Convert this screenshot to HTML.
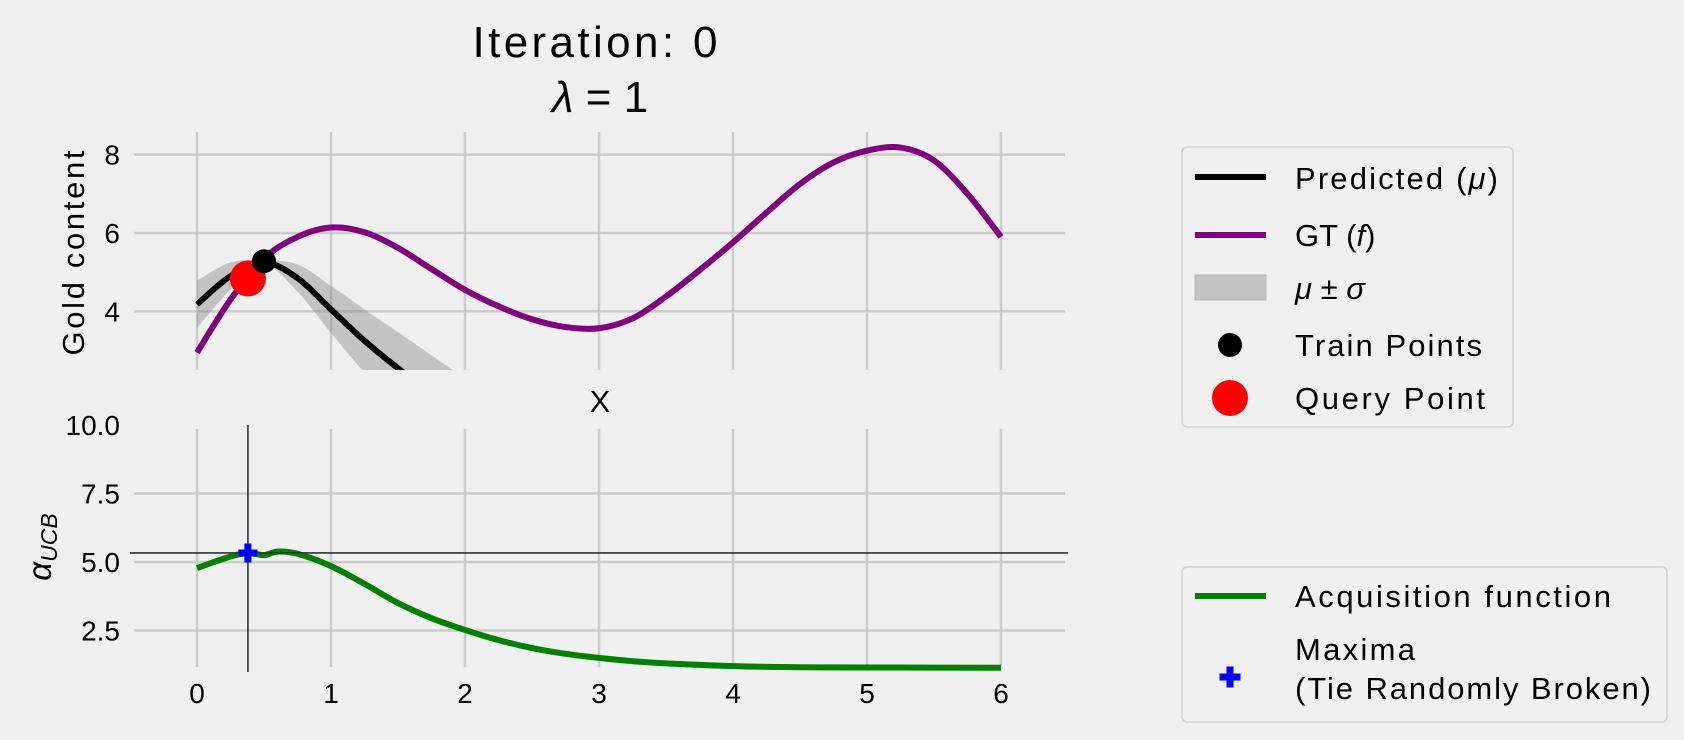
<!DOCTYPE html>
<html><head><meta charset="utf-8"><style>
html,body{margin:0;padding:0;background:#f0f0f0}
svg{display:block;font-family:"Liberation Sans","DejaVu Sans",sans-serif}
</style></head><body>
<svg id="chart" width="1684" height="740" viewBox="0 0 1684 740" xmlns="http://www.w3.org/2000/svg">
<rect width="1684" height="740" fill="#f0f0f0"/>
<defs>
<clipPath id="clipTop"><rect x="130" y="132" width="940" height="238"/></clipPath>
<clipPath id="clipBot"><rect x="130" y="425" width="940" height="247"/></clipPath>
</defs>
<g id="topGrid"></g>
<g id="botGrid"></g>
<g id="topPlot" clip-path="url(#clipTop)"></g>
<g id="botPlot" clip-path="url(#clipBot)"></g>
<g id="ticks" font-size="28" fill="#000"></g>

<text x="595" y="57" font-size="44" text-anchor="middle" textLength="245">Iteration: 0</text>
<text x="600" y="112" font-size="44" text-anchor="middle"><tspan font-style="italic">λ</tspan> = 1</text>
<text x="600" y="412" font-size="31" text-anchor="middle">X</text>
<text transform="translate(84,253) rotate(-90)" font-size="31" text-anchor="middle" textLength="205">Gold content</text>
<text transform="translate(51,547) rotate(-90)" font-size="33" text-anchor="middle"><tspan font-style="italic">α</tspan><tspan font-size="23" font-style="italic" dy="6">UCB</tspan></text>

<g>
<rect x="1182" y="147" width="331" height="280" rx="5" fill="#f0f0f0" stroke="#d0d0d0" stroke-width="1.5"/>
<g><line x1="1195" y1="177" x2="1266" y2="177" stroke="#000" stroke-width="6"/><text x="1295" y="189" font-size="31" textLength="203">Predicted (<tspan font-style="italic">μ</tspan>)</text></g>
<g><line x1="1195" y1="235" x2="1266" y2="235" stroke="#800080" stroke-width="6"/><text x="1295" y="246" font-size="31">GT (<tspan font-style="italic">f</tspan>)</text></g>
<g><rect x="1195" y="275" width="71" height="25" fill="#c3c3c3" stroke="#b5b5b5" stroke-width="1"/><text x="1295" y="299" font-size="31"><tspan font-style="italic">μ</tspan> ± <tspan font-style="italic">σ</tspan></text></g>
<g><circle cx="1230" cy="345" r="12" fill="#000"/><text x="1295" y="356" font-size="31" textLength="187">Train Points</text></g>
<g><circle cx="1230" cy="398" r="18" fill="#ff0000"/><text x="1295" y="409" font-size="31" textLength="190">Query Point</text></g>
</g>
<g>
<rect x="1182" y="567" width="485" height="155" rx="5" fill="#f0f0f0" stroke="#d0d0d0" stroke-width="1.5"/>
<g><line x1="1195" y1="596" x2="1266" y2="596" stroke="#008000" stroke-width="6"/><text x="1295" y="607" font-size="31" textLength="316">Acquisition function</text></g>
<g><path d="M1226.5,666.5h7v7h7v7h-7v7h-7v-7h-7v-7h7z" fill="#0000ff"/><text x="1295" y="660" font-size="31" textLength="120">Maxima</text><text x="1295" y="699" font-size="31" textLength="356">(Tie Randomly Broken)</text></g>
</g>
</svg>
<script>
// ---- data ----
const gtX = [0,0.25,0.5,0.75,1,1.25,1.5,1.75,2,2.25,2.5,2.75,3,3.25,3.5,3.75,4,4.25,4.5,4.75,5,5.25,5.5,5.75,6];
const gtY = [2.95,4.3,5.35,5.9,6.14,6.02,5.62,5.08,4.55,4.13,3.8,3.6,3.57,3.82,4.38,5.05,5.76,6.52,7.25,7.8,8.1,8.18,7.85,7.0,5.9];
const muX = [0,0.25,0.5,0.75,1,1.25,1.5,1.75,2,2.25,2.5];
const muY = [4.18,4.9,5.25,4.85,4.05,3.25,2.55,1.9,1.3,0.8,0.4];
const sigY = [0.6,0.35,0.05,0.35,0.6,0.8,0.92,0.98,1.0,1.0,1.0];
const trainX = [0.5];
const trainY = [5.28];
const queryX = [0.38];
const queryY = [4.84];
const acqX = [0,0.25,0.38,0.5,0.6,0.75,1,1.25,1.5,1.75,2,2.25,2.5,2.75,3,3.25,3.5,4,4.5,5,6];
const acqY = [4.78,5.2,5.33,5.25,5.38,5.3,4.85,4.2,3.5,2.95,2.52,2.15,1.86,1.65,1.5,1.38,1.3,1.2,1.16,1.15,1.14];
const maxX = [0.38];
const maxY = [5.33];
const xTicks = [0,1,2,3,4,5,6];
const topYTicks = [4,6,8];
const botYTicks = [2.5,5.0,7.5,10.0];
const botYTickLabels = ["2.5","5.0","7.5","10.0"];

// ---- axes ----
const sx = v => 197 + v*134;
const syT = v => 233 - (v-6)*39.2;
const syB = v => 562 - (v-5)*27.4;
const NS = "http://www.w3.org/2000/svg";
function mk(tag, attrs, parent){const e=document.createElementNS(NS,tag);for(const k in attrs)e.setAttribute(k,attrs[k]);parent.appendChild(e);return e;}
function spline(pts){
  let d = "M"+pts[0][0].toFixed(2)+","+pts[0][1].toFixed(2);
  for(let i=0;i<pts.length-1;i++){
    const p0=pts[Math.max(0,i-1)],p1=pts[i],p2=pts[i+1],p3=pts[Math.min(pts.length-1,i+2)];
    const c1=[p1[0]+(p2[0]-p0[0])/6,p1[1]+(p2[1]-p0[1])/6];
    const c2=[p2[0]-(p3[0]-p1[0])/6,p2[1]-(p3[1]-p1[1])/6];
    d+=" C"+c1[0].toFixed(2)+","+c1[1].toFixed(2)+" "+c2[0].toFixed(2)+","+c2[1].toFixed(2)+" "+p2[0].toFixed(2)+","+p2[1].toFixed(2);
  }
  return d;
}
const topGrid=document.getElementById('topGrid'), botGrid=document.getElementById('botGrid');
const topPlot=document.getElementById('topPlot'), botPlot=document.getElementById('botPlot');
const ticks=document.getElementById('ticks');
xTicks.forEach(t=>{
  let g=mk('line',{x1:sx(t),x2:sx(t),y1:132,y2:370,stroke:'#cbcbcb','stroke-width':2.5},topGrid);
  
  
  g=mk('line',{x1:sx(t),x2:sx(t),y1:429,y2:667,stroke:'#cbcbcb','stroke-width':2.5},botGrid);
  
  
  const l=mk('text',{x:sx(t),y:703,'text-anchor':'middle'},ticks);
  l.textContent=String(t);
  
  
});
topYTicks.forEach(t=>{
  const g=mk('line',{x1:134,x2:1065,y1:syT(t),y2:syT(t),stroke:'#cbcbcb','stroke-width':2.5},topGrid);
  
  
  const l=mk('text',{x:120,y:syT(t)+10,'text-anchor':'end'},ticks);
  l.textContent=String(t);
  
  
});
botYTicks.forEach((t,i)=>{
  if(t<10){
    const g=mk('line',{x1:134,x2:1065,y1:syB(t),y2:syB(t),stroke:'#cbcbcb','stroke-width':2.5},botGrid);
    
    
  }
  const l=mk('text',{x:120,y:syB(t)+10,'text-anchor':'end'},ticks);
  l.textContent=botYTickLabels[i];
  
  
});

// band
const up=muX.map((x,i)=>[sx(x),syT(muY[i]+sigY[i])]);
const lo=muX.map((x,i)=>[sx(x),syT(muY[i]-sigY[i])]).reverse();
const loD=spline(lo).replace(/^M/,' L');
const band=mk('path',{d:spline(up)+loD+' Z',fill:'#7f7f7f','fill-opacity':0.4},topPlot);


const mu=mk('path',{d:spline(muX.map((x,i)=>[sx(x),syT(muY[i])])),fill:'none',stroke:'#000','stroke-width':6},topPlot);


const gt=mk('path',{d:spline(gtX.map((x,i)=>[sx(x),syT(gtY[i])])),fill:'none',stroke:'#800080','stroke-width':6},topPlot);


queryX.forEach((x,i)=>{
  const c=mk('circle',{cx:sx(x),cy:syT(queryY[i]),r:18,fill:'#ff0000'},topPlot);
  
  
});
trainX.forEach((x,i)=>{
  const c=mk('circle',{cx:sx(x),cy:syT(trainY[i]),r:12,fill:'#000'},topPlot);
  
  
});
// bottom
const acq=mk('path',{d:spline(acqX.map((x,i)=>[sx(x),syB(acqY[i])])),fill:'none',stroke:'#008000','stroke-width':6},botPlot);


maxX.forEach((x,i)=>{
  const vl=mk('line',{x1:sx(x),x2:sx(x),y1:425,y2:672,stroke:'#333','stroke-width':1.6},botPlot);
  
  
  const hl=mk('line',{x1:130,x2:1068,y1:syB(maxY[i]),y2:syB(maxY[i]),stroke:'#333','stroke-width':1.6},botPlot);
  
  
  const cx=sx(x), cy=syB(maxY[i]);
  const p=mk('path',{d:`M${cx-3.5},${cy-9.5}h7v6h6v7h-6v6h-7v-6h-6v-7h6z`,fill:'#0000ff'},botPlot);
  
  
});
</script>
</body></html>
